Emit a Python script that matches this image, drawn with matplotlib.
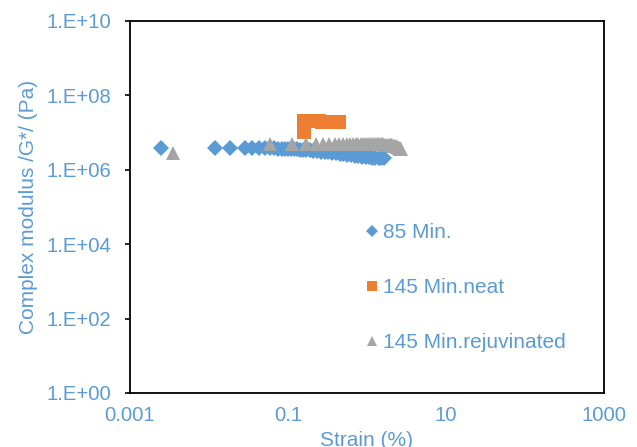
import numpy as np
import matplotlib
matplotlib.use("Agg")
import matplotlib.pyplot as plt
from matplotlib.ticker import FixedLocator, FuncFormatter, NullLocator

plt.rcParams['font.family'] = ['Liberation Sans', 'DejaVu Sans']

BLUE = '#5B9BD5'
ORANGE = '#ED7D31'
GREY = '#A5A5A5'
TEXT = '#5B9BD5'

# Strain (%) and complex modulus (Pa) for each sample
strain_85 = [0.0025, 0.012, 0.0185, 0.0285, 0.0355, 0.043, 0.051, 0.059, 0.067,
             0.075, 0.083, 0.092, 0.10, 0.11, 0.12, 0.13, 0.14, 0.155, 0.17, 0.19,
             0.21, 0.235, 0.26, 0.29, 0.32, 0.36, 0.40, 0.45, 0.50, 0.56, 0.63,
             0.70, 0.78, 0.87, 0.96, 1.06, 1.17, 1.28, 1.40, 1.52, 1.64]
g_85 = [3.8e6, 3.8e6, 3.8e6, 3.8e6, 3.8e6, 3.8e6, 3.78e6, 3.76e6, 3.74e6,
        3.72e6, 3.70e6, 3.68e6, 3.66e6, 3.62e6, 3.58e6, 3.54e6, 3.50e6, 3.45e6,
        3.40e6, 3.33e6, 3.26e6, 3.18e6, 3.10e6, 3.00e6, 2.92e6, 2.83e6, 2.75e6,
        2.66e6, 2.58e6, 2.50e6, 2.44e6, 2.38e6, 2.32e6, 2.27e6, 2.22e6, 2.18e6,
        2.14e6, 2.11e6, 2.08e6, 2.06e6, 2.04e6]

strain_145_neat = [0.16, 0.16, 0.175, 0.19, 0.21, 0.23, 0.25, 0.27, 0.29, 0.31,
                   0.33, 0.35, 0.37, 0.39, 0.41, 0.43, 0.44]
g_145_neat = [1.05e7, 2.02e7, 2.02e7, 2.02e7, 2.01e7, 2.0e7, 2.0e7, 1.98e7,
              1.97e7, 1.96e7, 1.95e7, 1.94e7, 1.93e7, 1.92e7, 1.91e7, 1.9e7, 1.9e7]

strain_145_rej = [0.0035, 0.059, 0.113, 0.17, 0.225, 0.28, 0.335, 0.39, 0.445,
                  0.50, 0.555, 0.61, 0.665, 0.72, 0.775, 0.83, 0.885, 0.94, 0.995,
                  1.05, 1.105, 1.16, 1.215, 1.27, 1.325, 1.38, 1.435, 1.49, 1.545,
                  1.60, 1.655, 1.71, 1.765, 1.82, 1.875, 1.93, 1.985, 2.04, 2.095,
                  2.15, 2.205, 2.26, 2.315, 2.37, 2.425, 2.48, 2.535, 2.59, 2.645, 2.70]
g_145_rej = [2.8e6, 4.8e6, 4.85e6, 4.9e6, 4.95e6, 5.0e6, 5.0e6, 5.0e6, 5.0e6,
             5.0e6, 5.0e6, 5.0e6, 5.0e6, 4.98e6, 4.97e6, 4.96e6, 4.95e6, 4.94e6,
             4.93e6, 4.92e6, 4.91e6, 4.90e6, 4.89e6, 4.88e6, 4.87e6, 4.86e6,
             4.85e6, 4.83e6, 4.81e6, 4.79e6, 4.77e6, 4.75e6, 4.72e6, 4.69e6,
             4.66e6, 4.63e6, 4.60e6, 4.56e6, 4.52e6, 4.48e6, 4.44e6, 4.38e6,
             4.30e6, 4.22e6, 4.12e6, 4.02e6, 3.92e6, 3.82e6, 3.72e6, 3.62e6]

x_ticks = [0.001, 0.1, 10, 1000]
x_tick_labels = ['0.001', '0.1', '10', '1000']
y_ticks = [1e0, 1e2, 1e4, 1e6, 1e8, 1e10]

fig = plt.figure(figsize=(6.37, 4.47), dpi=100)
ax = fig.add_axes([130 / 637, 1 - 393 / 447, 474 / 637, 372 / 447])

ax.plot(strain_85, g_85, linestyle='none', marker='D', markersize=8,
        color=BLUE, markeredgewidth=0, label='85 Min.', zorder=3)
ax.plot(strain_145_neat, g_145_neat, linestyle='none', marker='s', markersize=9.5,
        color=ORANGE, markeredgewidth=0, label='145 Min.neat', zorder=4)
ax.plot(strain_145_rej, g_145_rej, linestyle='none', marker='^', markersize=9.5,
        color=GREY, markeredgewidth=0, label='145 Min.rejuvinated', zorder=5)

ax.set_xscale('log')
ax.set_yscale('log')
ax.set_xlim(1e-3, 1e3)
ax.set_ylim(1e0, 1e10)

ax.xaxis.set_major_locator(FixedLocator(x_ticks))
ax.set_xticklabels(x_tick_labels)
ax.xaxis.set_minor_locator(NullLocator())
ax.yaxis.set_major_locator(FixedLocator(y_ticks))
ax.yaxis.set_major_formatter(FuncFormatter(lambda v, p: f"1.E+{int(round(np.log10(v))):02d}"))
ax.yaxis.set_minor_locator(NullLocator())

ax.tick_params(axis='x', length=0, pad=9.5, labelsize=14.6, labelcolor=TEXT)
ax.tick_params(axis='y', length=3.6, width=1.2, direction='out', pad=10,
               labelsize=14.6, labelcolor=TEXT)

for s in ax.spines.values():
    s.set_color('black')
    s.set_linewidth(1.3)

ax.set_xlabel('Strain (%)', fontsize=15, color=TEXT, labelpad=4)
ax.set_ylabel('Complex modulus /G*/ (Pa)', fontsize=15, color=TEXT, labelpad=6)

leg = ax.legend(loc='upper left', bbox_to_anchor=(0.497, 0.457), frameon=False,
                fontsize=15, handlelength=0.6, handletextpad=0.25,
                labelspacing=1.73, borderpad=0, borderaxespad=0, markerscale=0.8)
for t in leg.get_texts():
    t.set_color(TEXT)

fig.savefig('out.png', dpi=100)
